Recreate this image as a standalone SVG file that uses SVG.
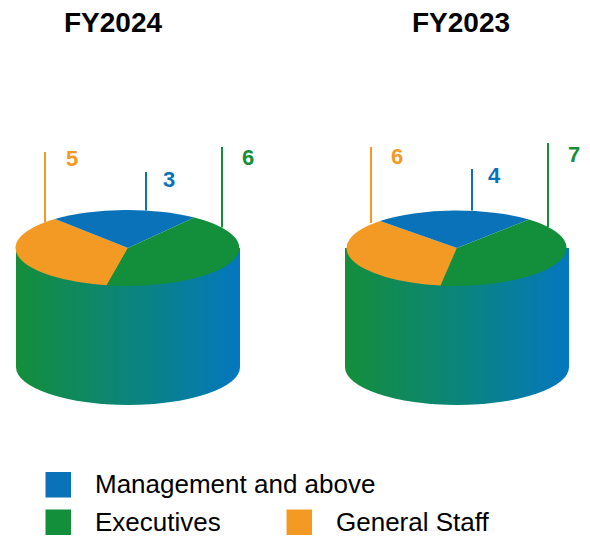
<svg xmlns="http://www.w3.org/2000/svg" width="590" height="537" viewBox="0 0 590 537">
<defs>
<linearGradient id="side" x1="0" y1="0" x2="1" y2="0">
<stop offset="0" stop-color="#148E3A"/>
<stop offset="0.5" stop-color="#0B857A"/>
<stop offset="1" stop-color="#0477BF"/>
</linearGradient>
<style>
.t{font-family:"Liberation Sans",Arial,sans-serif;font-weight:bold;font-size:28px;fill:#000;text-anchor:middle}
.n{font-family:"Liberation Sans",Arial,sans-serif;font-weight:bold;font-size:22px}
.lg{font-family:"Liberation Sans",Arial,sans-serif;font-size:26px;fill:#000}
.b{fill:#0A72B9}.g{fill:#138F3B}.o{fill:#F39A24}
.lb{stroke:#0A72B9;stroke-width:2}.lgr{stroke:#138F3B;stroke-width:2}.lo{stroke:#F39A24;stroke-width:2}
</style>
</defs>
<rect width="590" height="537" fill="#fff"/>
<text class="t" x="113" y="32">FY2024</text>
<text class="t" x="461" y="32">FY2023</text>
<g id="pie2024">
<path d="M16,248 V367 A112,38 0 0 0 240,367 V248 Z" fill="url(#side)"/>
<path class="o" d="M128,248 L55,219 A112,38 0 0 0 106.7,285.3 Z"/>
<path class="b" d="M128,248 L55,219 A112,38 0 0 1 194.3,217.5 Z"/>
<path class="g" d="M128,248 L194.3,217.5 A112,38 0 0 1 106.7,285.3 Z"/>
</g>
<g id="pie2023">
<path d="M345,248 V367 A112,38 0 0 0 569,367 V248 Z" fill="url(#side)"/>
<path class="o" d="M457,248 L380,221 A112,38 0 0 0 440.7,285.6 Z"/>
<path class="b" d="M457,248 L380,221 A112,38 0 0 1 529,219.5 Z"/>
<path class="g" d="M457,248 L529,219.5 A112,38 0 0 1 440.7,285.6 Z"/>
</g>
<g id="connectors">
<line class="lo" x1="45" y1="152" x2="45" y2="222.5"/>
<line class="lb" x1="146" y1="172" x2="146" y2="210.5"/>
<line class="lgr" x1="222" y1="147" x2="222" y2="227.5"/>
<line class="lo" x1="371" y1="147" x2="371" y2="223"/>
<line class="lb" x1="472" y1="169" x2="472" y2="210.5"/>
<line class="lgr" x1="548" y1="143" x2="548" y2="227"/>
</g>
<g id="labels">
<text class="n o" x="66" y="166">5</text>
<text class="n b" x="163" y="186.5">3</text>
<text class="n g" x="242" y="165">6</text>
<text class="n o" x="391" y="164">6</text>
<text class="n b" x="488" y="183">4</text>
<text class="n g" x="568" y="162">7</text>
</g>
<g id="legend">
<rect class="b" x="45.5" y="472" width="25.5" height="25.5"/>
<text class="lg" x="95" y="493">Management and above</text>
<rect class="g" x="45.5" y="509.5" width="25.5" height="25.5"/>
<text class="lg" x="95" y="530.5">Executives</text>
<rect class="o" x="286.5" y="509.5" width="25.5" height="25.5"/>
<text class="lg" x="336" y="530.5">General Staff</text>
</g>
</svg>
